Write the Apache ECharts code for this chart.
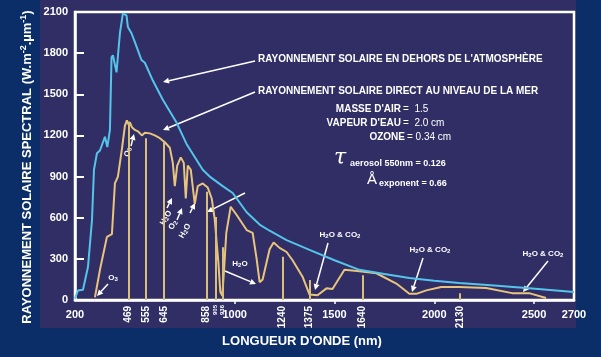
<!DOCTYPE html>
<html><head><meta charset="utf-8">
<script src="https://cdn.jsdelivr.net/npm/echarts@6/dist/echarts.min.js"></script>
<style>html,body{margin:0;padding:0;background:#0b2e69;}#c{width:601px;height:357px;}</style>
</head><body><div id="c"></div>
<script>
// Extraterrestrial spectrum (blue)
const extWavelength = [200,215,240,265,285,295,310,325,350,362,375,383,390,408,425,440,458,465,483,500,533,550,590,640,710,758,840,875,940,990,1060,1125,1175,1260,1375,1500,1625,1750,1875,2000,2125,2300,2460,2700];
const extIrradiance = [10,70,75,240,580,950,1070,1090,1190,1115,1240,1770,1785,1660,1945,2090,2075,1990,1945,1880,1750,1730,1600,1460,1290,1140,950,900,830,780,640,550,505,437,365,290,220,190,160,140,124,105,87,58];
// Direct sea-level spectrum (orange)
const seaWavelength = [300,325,360,385,400,415,435,450,460,468,475,485,500,515,535,550,575,600,625,650,675,690,700,712,730,745,755,765,780,800,815,840,865,885,900,912,918,928,938,948,958,980,1000,1010,1060,1090,1110,1125,1140,1175,1195,1225,1260,1290,1340,1375,1415,1460,1490,1550,1625,1710,1810,1875,1910,1960,2035,2125,2260,2390,2475,2560];
const seaIrradiance = [20,220,460,480,850,900,1100,1270,1310,1280,1295,1260,1240,1230,1200,1220,1215,1200,1180,1150,1110,1000,830,980,1040,1000,740,980,950,700,830,850,820,740,590,380,280,60,30,250,490,680,640,620,510,490,300,130,150,370,420,380,350,290,170,40,35,85,80,220,210,195,120,45,45,70,95,95,87,50,50,15];
// Vertical marker lines (wavelength, height)
const markWavelength = [469,555,645,858,905,940,1240,1375,1640,2130];
const markTop = [1300,1180,1150,790,605,385,315,145,180,50];
// Tick labels
const xMainLabels = [200,1000,1500,2000,2500,2700];
const xMainTicks = [1000,1500,2000,2500];
const xRotLabels = [469,555,645,858,1240,1375,1640,2130];
const xSmallLabels = [905,936,940];
const yMin = 0, yMax = 2100, yStep = 300;

const FONT = '"Liberation Sans", Arial, Helvetica, sans-serif';
const W = '#ffffff';
const plain = v => String(v);

function arrow(x1,y1,x2,y2){
  const dx=x2-x1, dy=y2-y1, L=Math.hypot(dx,dy), ux=dx/L, uy=dy/L;
  const hl=6, hw=3; const bx=x2-ux*hl, by=y2-uy*hl;
  return [
    {type:'line', silent:true, shape:{x1:x1,y1:y1,x2:bx,y2:by}, style:{stroke:W, lineWidth:1.5}},
    {type:'polygon', silent:true, shape:{points:[[x2,y2],[bx-uy*hw,by+ux*hw],[bx+uy*hw,by-ux*hw]]}, style:{fill:W}}
  ];
}
const subRich = {
  n:{fill:W, fontSize:8, fontWeight:'bold', fontFamily:FONT},
  s:{fill:W, fontSize:6, fontWeight:'bold', fontFamily:FONT, verticalAlign:'bottom', padding:[3,0,0,0]}
};
function chemText(x,y,txt,rot){
  return {type:'text', silent:true, x:x, y:y, rotation:(rot||0)*Math.PI/180,
    style:{text:txt, rich:subRich, align:'center', verticalAlign:'middle', fill:W}};
}
function txt(x,y,t,opt){
  return {type:'text', silent:true, x:x, y:y, style:Object.assign({text:t, fill:W, fontFamily:FONT, fontSize:11, fontWeight:'bold', align:'left', verticalAlign:'middle'}, opt||{})};
}

const graphics = [
  {type:'rect', z:-100, silent:true, shape:{x:40,y:0,width:536,height:328}, style:{fill:'#302e65'}},
  // y axis title
  {type:'text', silent:true, x:27, y:167, rotation:Math.PI/2,
    style:{text:'{a|RAYONNEMENT SOLAIRE SPECTRAL (W.m}{s|-2}{a|.µm}{s|-1}{a|)}', align:'center', verticalAlign:'middle',
      rich:{a:{fill:W, fontSize:13, fontWeight:'bold', fontFamily:FONT}, s:{fill:W, fontSize:9, fontWeight:'bold', fontFamily:FONT, verticalAlign:'top', padding:[0,0,6,0]}}}},
  // x axis title
  txt(302,341,"LONGUEUR D'ONDE (nm)",{fontSize:13, align:'center'}),
  // legend-like annotations
  txt(258,59,"RAYONNEMENT SOLAIRE EN DEHORS DE L'ATMOSPHÈRE",{fontSize:10}),
  txt(258,91,"RAYONNEMENT SOLAIRE DIRECT AU NIVEAU DE LA MER",{fontSize:10}),
  // conditions block
  txt(401,109,"MASSE D'AIR",{fontSize:10, align:'right'}),
  txt(403,109,"=  1.5",{fontSize:10, fontWeight:'normal'}),
  txt(401,123,"VAPEUR D'EAU",{fontSize:10, align:'right'}),
  txt(403,123,"=  2.0 cm",{fontSize:10, fontWeight:'normal'}),
  txt(405,137,"OZONE",{fontSize:10, align:'right'}),
  txt(407,137,"= 0.34 cm",{fontSize:10, fontWeight:'normal'}),
  txt(334,158,"τ",{fontSize:22, fontWeight:'normal', fontStyle:'italic', fontFamily:'"DejaVu Serif", serif'}),
  txt(350,164,"aerosol 550nm = 0.126",{fontSize:9}),
  txt(367,180,"Å",{fontSize:15, fontWeight:'normal'}),
  txt(379,184,"exponent = 0.66",{fontSize:9}),
  // chemistry labels
  chemText(128,152,'{n|O}{s|3}',80),
  chemText(166,218,'{n|H}{s|2}{n|O}',60),
  chemText(173,225,'{n|O}{s|2}',60),
  chemText(185,231,'{n|H}{s|2}{n|O}',60),
  chemText(113,278,'{n|O}{s|3}',0),
  chemText(240,264,'{n|H}{s|2}{n|O}',0),
  chemText(340,235,'{n|H}{s|2}{n|O & CO}{s|2}',0),
  chemText(430,250,'{n|H}{s|2}{n|O & CO}{s|2}',0),
  chemText(543,254,'{n|H}{s|2}{n|O & CO}{s|2}',0)
].concat(
  arrow(255,61,163,82), arrow(255,92,163,130),
  arrow(131,146,134,134),
  arrow(167,208,172,198), arrow(177,220,182,208), arrow(190,213,195,203),
  arrow(108,284,97,296),
  arrow(225,271,256,284),
  arrow(245,193,207,212),
  arrow(328,243,315,290), arrow(423,258,412,292), arrow(548,261,523,292)
);

const xBase = {type:'value', min:200, max:2700, gridIndex:0, position:'bottom', splitLine:{show:false}};
const option = {
  backgroundColor:'#0b2e69',
  animation:false,
  grid:{left:75, right:27, top:12, bottom:57, show:true, backgroundColor:'#302e65', borderColor:W, borderWidth:2.5},
  xAxis:[
    Object.assign({}, xBase, {
      axisLine:{show:true, lineStyle:{color:W, width:2.5}},
      axisTick:{show:true, customValues:xMainTicks, length:4, lineStyle:{color:W, width:1.5}},
      axisLabel:{customValues:xMainLabels, formatter:plain, color:W, fontSize:11, fontWeight:'bold', fontFamily:FONT, margin:9}
    }),
    Object.assign({}, xBase, {
      axisLine:{show:false}, axisTick:{show:false},
      axisLabel:{customValues:xRotLabels, formatter:plain, rotate:90, color:W, fontSize:10, fontWeight:'bold', fontFamily:FONT, margin:6}
    }),
    Object.assign({}, xBase, {
      axisLine:{show:false}, axisTick:{show:false},
      axisLabel:{customValues:xSmallLabels, formatter:plain, rotate:90, color:W, fontSize:6, fontWeight:'bold', fontFamily:FONT, margin:5}
    })
  ],
  yAxis:{type:'value', min:yMin, max:yMax, interval:yStep, splitLine:{show:false},
    axisLine:{show:true, lineStyle:{color:W, width:2.5}},
    axisTick:{show:true, inside:true, length:9, lineStyle:{color:W, width:2}},
    axisLabel:{formatter:plain, color:W, fontSize:11, fontWeight:'bold', fontFamily:FONT, margin:7}},
  series:[
    {type:'line', name:'ext', xAxisIndex:0, symbol:'none', z:4,
      data:extWavelength.map((w,i)=>[w,extIrradiance[i]]),
      lineStyle:{color:'#55c4ea', width:2}},
    {type:'line', name:'sea', xAxisIndex:0, symbol:'none', z:3,
      data:seaWavelength.map((w,i)=>[w,seaIrradiance[i]]),
      lineStyle:{color:'#e8c47c', width:2},
      markLine:{silent:true, symbol:'none', label:{show:false},
        lineStyle:{color:'#d9bf78', width:2, type:'solid'},
        data:markWavelength.map((w,i)=>[{coord:[w,0]},{coord:[w,markTop[i]]}])}}
  ],
  graphic:graphics
};
const chart = echarts.init(document.getElementById('c'));
chart.setOption(option);
</script></body></html>
